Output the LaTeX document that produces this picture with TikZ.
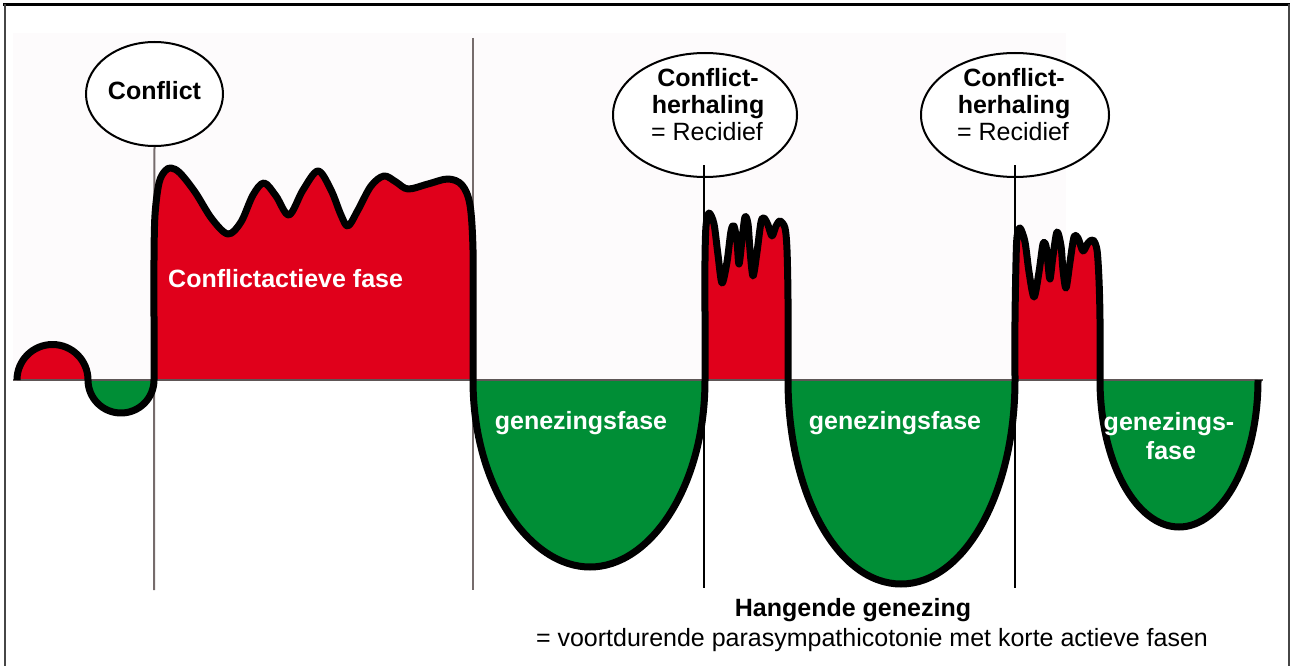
\documentclass[tikz,border=0pt]{standalone}
\usepackage{fontspec}
\setmainfont{Liberation Sans}
\usetikzlibrary{shapes.geometric}
\definecolor{cred}{RGB}{224,0,27}
\definecolor{cgreen}{RGB}{0,142,54}
\definecolor{bgpink}{RGB}{253,251,252}
\definecolor{vgray}{RGB}{118,108,108}
\definecolor{framegray}{RGB}{70,70,70}
\begin{document}
\begin{tikzpicture}[x=1pt,y=-1pt,
  bubble/.style={ellipse, draw, line width=2pt, fill=white, inner sep=0pt},
  lbl/.style={font=\fontsize{25}{27}\selectfont, inner sep=0pt},
  bl/.style={lbl, font=\fontsize{25}{27}\selectfont\bfseries},
  wl/.style={bl, text=white},
  vgrayline/.style={draw=vgray, line width=2pt},
  vblackline/.style={draw=black, line width=2.5pt},
  curve/.style={line width=7pt, line join=round, line cap=butt}]
\useasboundingbox (0,0) rectangle (1293,666);

% frame
\draw[line width=2.5pt] (3,4.5) -- (1290,4.5);
\draw[framegray, line width=2pt] (4.5,4.5) -- (4.5,666);
\draw[framegray, line width=2pt] (1288.5,4.5) -- (1288.5,666);

% faint background
\fill[bgpink] (13,33) rectangle (1066,380);

\def\maincurve{(17,380) arc[start angle=180,end angle=360,radius=35.5]
  arc[start angle=180,end angle=0,radius=33]
  -- plot[smooth,tension=0.55] coordinates {(154,380)(154,320)(154,260)(155,215)(159,183)(165,171)(171,168)(180,173)(195,192)(212,219)(228,234)(241,222)(253,195)(264,183)(276,196)(289,215)(303,190)(318,171)(331,190)(341,215)(348,226)(358,210)(371,186)(384,176)(396,182)(408,189)(428,184)(448,179)(462,185)(470,205)(473,250)(473,320)(473,380)}
  .. controls (473,487) and (530,567) .. (590,567)
  .. controls (650,567) and (705,487) .. (705,380)
  -- plot[smooth,tension=0.5] coordinates {(705,380)(705,320)(705,260)(706,226)(709,213)(714,224)(718,255)(722,283)(727,262)(731,231)(734,226)(737,242)(739,264)(742,240)(745,217)(748,224)(750,250)(753,276)(757,252)(761,222)(764,218)(768,225)(772,236)(776,226)(780,221)(785,228)(787,250)(788,300)(788,380)}
  .. controls (788,494) and (838,584) .. (901,584)
  .. controls (964,584) and (1015,494) .. (1015,380)
  -- plot[smooth,tension=0.5] coordinates {(1015,380)(1015,320)(1016,262)(1017,237)(1020,228)(1025,242)(1029,272)(1034,297)(1039,272)(1043,244)(1046,246)(1048,264)(1050,279)(1053,256)(1057,232)(1061,246)(1063,270)(1066,288)(1070,262)(1074,237)(1078,238)(1083,251)(1088,243)(1093,240)(1097,250)(1099,280)(1100,320)(1100,380)}
  .. controls (1100,462) and (1136,527) .. (1179,527)
  .. controls (1222,527) and (1258,462) .. (1258,380)}

% bubbles
\node[bubble, minimum width=137, minimum height=104] (c1) at (154.5,94) {};
\node[bubble, minimum width=184, minimum height=124] (c2) at (705,115) {};
\node[bubble, minimum width=188, minimum height=124] (c3) at (1015,115) {};

% coordinates for guide lines
\coordinate (g1b) at (154,590);
\coordinate (g2t) at (473,38);
\coordinate (g2b) at (473,590);
\coordinate (r1t) at (704,165);
\coordinate (r1b) at (704,588);
\coordinate (r2t) at (1015,165);
\coordinate (r2b) at (1015,588);
\coordinate (bl0) at (13,380);
\coordinate (bl1) at (1263,380);

% grey guide lines
\draw[vgrayline] (c1.south) -- (g1b);
\draw[vgrayline] (g2t) -- (g2b);

% fills
\begin{scope}
  \clip (0,0) rectangle (1293,380);
  \fill[cred] \maincurve -- cycle;
\end{scope}
\begin{scope}
  \clip (0,380) rectangle (1293,666);
  \fill[cgreen] \maincurve -- cycle;
\end{scope}

% baseline
\draw[draw=vgray!80!black, line width=2pt] (bl0) -- (bl1);

% curve
\draw[curve] \maincurve;

% black guide lines
\draw[vblackline] (r1t) -- (r1b);
\draw[vblackline] (r2t) -- (r2b);

% texts
\node[bl, anchor=base] (t1) at (154.5,100) {Conflict};
\node[bl, anchor=base] (t2a) at (708,87) {Conflict-};
\node[bl, anchor=base] (t2b) at (708,114) {herhaling};
\node[lbl, anchor=base] (t2c) at (707,141) {= Recidief};
\node[bl, anchor=base] (t3a) at (1014,87) {Conflict-};
\node[bl, anchor=base] (t3b) at (1014,114) {herhaling};
\node[lbl, anchor=base] (t3c) at (1013,141) {= Recidief};

\node[wl, anchor=base west] (ca) at (168,287) {Conflictactieve fase};
\node[wl, anchor=base] (g1) at (581,429) {genezingsfase};
\node[wl, anchor=base] (g2) at (895,429) {genezingsfase};
\node[wl, anchor=base] (g3a) at (1169,430) {genezings-};
\node[wl, anchor=base] (g3b) at (1171,459) {fase};

\node[bl, anchor=base] (h1) at (853,616) {Hangende genezing};
\node[lbl, anchor=base] (h2) at (872,646) {= voortdurende parasympathicotonie met korte actieve fasen};
\end{tikzpicture}
\end{document}
